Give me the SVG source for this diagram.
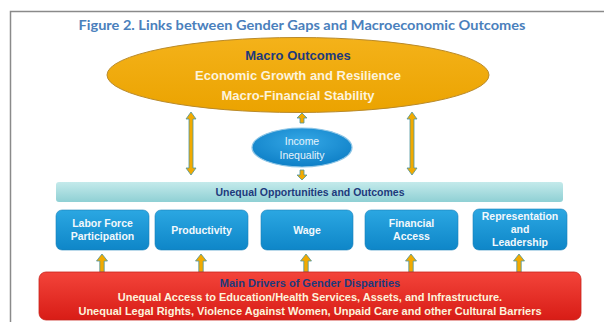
<svg xmlns="http://www.w3.org/2000/svg" width="604" height="322" viewBox="0 0 604 322">
  <defs>
    <linearGradient id="gOrange" x1="0" y1="0" x2="0" y2="1">
      <stop offset="0" stop-color="#f4b21a"/>
      <stop offset="1" stop-color="#eba300"/>
    </linearGradient>
    <radialGradient id="gIncome" cx="0.5" cy="0.35" r="0.7">
      <stop offset="0" stop-color="#35a8e6"/>
      <stop offset="1" stop-color="#0b7cc4"/>
    </radialGradient>
    <linearGradient id="gTeal" x1="0" y1="0" x2="0" y2="1">
      <stop offset="0" stop-color="#c4eaeb"/>
      <stop offset="1" stop-color="#8fd0d4"/>
    </linearGradient>
    <linearGradient id="gBlue" x1="0" y1="0" x2="0" y2="1">
      <stop offset="0" stop-color="#2ba7e2"/>
      <stop offset="1" stop-color="#0e86c8"/>
    </linearGradient>
    <linearGradient id="gRed" x1="0" y1="0" x2="0" y2="1">
      <stop offset="0" stop-color="#f3443a"/>
      <stop offset="1" stop-color="#d81c16"/>
    </linearGradient>
    <!-- double-headed vertical arrow, 63 px long, tip at origin -->
    <polygon id="dblArrow" points="0,0 5,7 2,7 2,56 5,56 0,63 -5,56 -2,56 -2,7 -5,7"/>
    <!-- single up arrow, 18 px long -->
    <polygon id="upArrow" points="0,0 5.5,7 2.2,7 2.2,18 -2.2,18 -2.2,7 -5.5,7"/>
    <!-- short up arrow, 10 px long -->
    <polygon id="shortUp" points="0,0 5,5 2,5 2,10 -2,10 -2,5 -5,5"/>
  </defs>
  <style>
    .frame { fill: #ffffff; stroke: #8a8a8a; stroke-width: 1.5; }
    .title { font-family: Lato, "Liberation Sans", sans-serif; font-weight: bold; font-size: 13px; fill: #4a80bc; }
    .arrow { fill: #f2aa00; stroke: #4b95a0; stroke-width: 0.8; }
    .bold { font-family: "Liberation Sans", Arial, sans-serif; font-weight: bold; text-anchor: middle; }
    .navy { fill: #1d3a7c; }
    .cream { fill: #fdf3dc; }
    .white { fill: #f2f8fc; }
    .box { fill: url(#gBlue); stroke: #1a7fb8; stroke-width: 0.6; }
  </style>

  <!-- figure frame -->
  <rect class="frame" x="10.5" y="11.5" width="600" height="320"/>

  <text class="title" x="302" y="30" text-anchor="middle" textLength="447" lengthAdjust="spacingAndGlyphs">Figure 2. Links between Gender Gaps and Macroeconomic Outcomes</text>

  <!-- connectors -->
  <g id="connectors">
    <use href="#dblArrow" class="arrow" x="191" y="112"/>
    <use href="#dblArrow" class="arrow" x="412" y="112"/>
    <use href="#shortUp" class="arrow" x="302" y="113"/>
    <use href="#shortUp" class="arrow" transform="translate(302 180) scale(1 -1)"/>
    <use href="#upArrow" class="arrow" x="102" y="254"/>
    <use href="#upArrow" class="arrow" x="201" y="254"/>
    <use href="#upArrow" class="arrow" x="306" y="254"/>
    <use href="#upArrow" class="arrow" x="411" y="254"/>
    <use href="#upArrow" class="arrow" x="519" y="254"/>
  </g>

  <g id="macro-outcomes">
    <ellipse cx="298" cy="75" rx="191" ry="37.5" fill="url(#gOrange)" stroke="#b98a2a" stroke-width="1"/>
    <text class="bold navy" x="298" y="60" font-size="13">Macro Outcomes</text>
    <text class="bold cream" x="298" y="80" font-size="13">Economic Growth and Resilience</text>
    <text class="bold cream" x="298" y="100" font-size="13">Macro-Financial Stability</text>
  </g>

  <g id="income-inequality">
    <ellipse cx="302" cy="147.5" rx="50" ry="19.5" fill="url(#gIncome)" stroke="#8fc6e6" stroke-width="1.2"/>
    <text x="302" y="145" font-family="'Liberation Sans', Arial, sans-serif" font-size="10.5" text-anchor="middle" fill="#e6f3fb">Income</text>
    <text x="302" y="159" font-family="'Liberation Sans', Arial, sans-serif" font-size="10.5" text-anchor="middle" fill="#e6f3fb">Inequality</text>
  </g>

  <g id="opportunities">
    <rect x="56" y="182" width="507" height="20" rx="3" fill="url(#gTeal)"/>
    <text class="bold navy" x="310" y="196" font-size="10.5">Unequal Opportunities and Outcomes</text>
  </g>

  <g id="labor-force">
    <rect class="box" x="56" y="210" width="93" height="40" rx="6"/>
    <text class="bold white" x="102.5" y="227" font-size="10.5">Labor Force</text>
    <text class="bold white" x="102.5" y="240" font-size="10.5">Participation</text>
  </g>

  <g id="productivity">
    <rect class="box" x="155" y="210" width="93" height="40" rx="6"/>
    <text class="bold white" x="201.5" y="234" font-size="10.5">Productivity</text>
  </g>

  <g id="wage">
    <rect class="box" x="261" y="210" width="92" height="40" rx="6"/>
    <text class="bold white" x="307" y="234" font-size="10.5">Wage</text>
  </g>

  <g id="financial-access">
    <rect class="box" x="365" y="210" width="93" height="40" rx="6"/>
    <text class="bold white" x="411.5" y="227" font-size="10.5">Financial</text>
    <text class="bold white" x="411.5" y="240" font-size="10.5">Access</text>
  </g>

  <g id="representation">
    <rect class="box" x="473" y="209" width="94" height="41" rx="6"/>
    <text class="bold white" x="520" y="220" font-size="10.5">Representation</text>
    <text class="bold white" x="520" y="233" font-size="10.5">and</text>
    <text class="bold white" x="520" y="246" font-size="10.5">Leadership</text>
  </g>

  <g id="main-drivers">
    <rect x="39" y="272" width="542" height="48" rx="7" fill="url(#gRed)" stroke="#c8231c" stroke-width="0.8"/>
    <text class="bold navy" x="310" y="287" font-size="11">Main Drivers of Gender Disparities</text>
    <text class="bold cream" x="310" y="301" font-size="11">Unequal Access to Education/Health Services, Assets, and Infrastructure.</text>
    <text class="bold cream" x="310" y="315" font-size="11">Unequal Legal Rights, Violence Against Women, Unpaid Care and other Cultural Barriers</text>
  </g>
</svg>
